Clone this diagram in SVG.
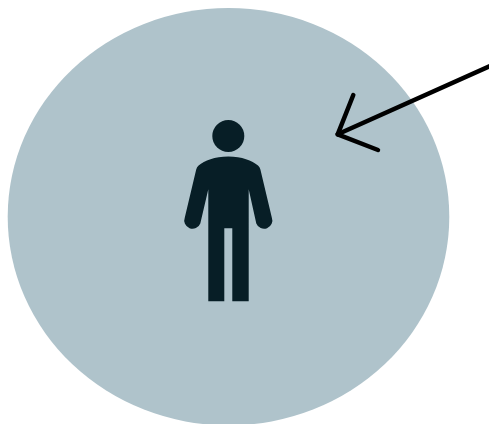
<svg xmlns="http://www.w3.org/2000/svg" width="489" height="424" viewBox="0 0 489 424">
<style>
.arrow{fill:none;stroke:#000;stroke-width:4.5;stroke-linecap:round;stroke-linejoin:round}
.fig{fill:#071e26}
</style>
<rect width="489" height="424" fill="#fff"/>
<g id="area"><ellipse cx="228.5" cy="216.7" rx="220.8" ry="208.7" fill="#afc3cb"/></g>
<g id="person" class="fig">
<circle cx="228.3" cy="136" r="16"/>
<path d="M228.3 156.5C242 156.5 252 160.5 258 165.5Q259.8 167 260.4 169.5L271.8 217.5A8 8 0 0 1 256.3 223.5L248.7 189.3V301.3H232.3V228.3H224.3V301.3H208.3V189.3L200.3 223.5A8 8 0 0 1 184.8 217.5L196.2 169.5Q196.8 167 198.6 165.5C204.6 160.5 214.6 156.5 228.3 156.5Z"/>
</g>
<g id="connectors">
<path class="arrow" d="M490 66L337.7 134.3"/>
<path class="arrow" d="M353.3 95L337.7 134.3L378 150"/>
</g>
</svg>
